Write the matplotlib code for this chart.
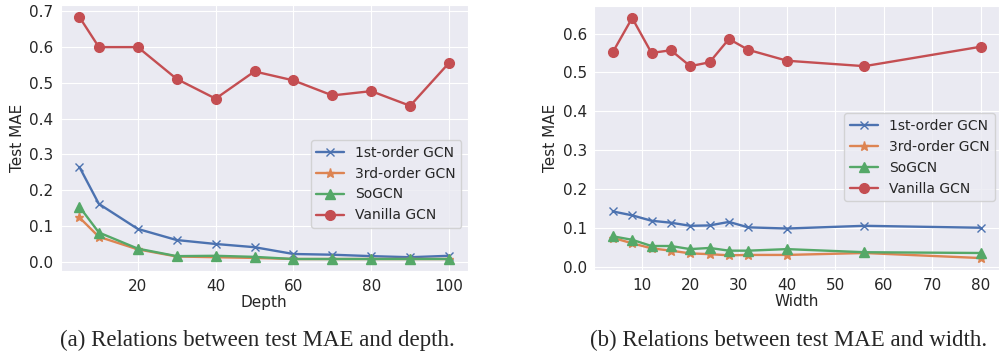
import matplotlib
matplotlib.use('Agg')
import matplotlib.pyplot as plt
import seaborn as sns

sns.set_style('darkgrid')
plt.rcParams['font.family'] = ['DejaVu Sans']

# depth experiment
depth = [5, 10, 20, 30, 40, 50, 60, 70, 80, 90, 100]
d_first = [0.265, 0.162, 0.092, 0.061, 0.050, 0.041, 0.022, 0.020, 0.016, 0.013, 0.017]
d_third = [0.124, 0.070, 0.035, 0.015, 0.013, 0.011, 0.008, 0.008, 0.008, 0.008, 0.008]
d_sogcn = [0.154, 0.082, 0.037, 0.016, 0.017, 0.014, 0.008, 0.008, 0.008, 0.008, 0.008]
d_vanilla = [0.684, 0.600, 0.600, 0.511, 0.456, 0.532, 0.507, 0.465, 0.477, 0.436, 0.556]

# width experiment
width = [4, 8, 12, 16, 20, 24, 28, 32, 40, 56, 80]
w_first = [0.142, 0.132, 0.118, 0.113, 0.105, 0.106, 0.115, 0.101, 0.098, 0.105, 0.100]
w_third = [0.074, 0.060, 0.047, 0.041, 0.034, 0.032, 0.029, 0.030, 0.030, 0.035, 0.022]
w_sogcn = [0.078, 0.069, 0.053, 0.053, 0.045, 0.048, 0.041, 0.041, 0.045, 0.037, 0.035]
w_vanilla = [0.552, 0.640, 0.550, 0.557, 0.516, 0.526, 0.586, 0.558, 0.530, 0.516, 0.566]

labels = ['1st-order GCN', '3rd-order GCN', 'SoGCN', 'Vanilla GCN']
markers = [('x', 5.5), ('*', 6.5), ('^', 6.5), ('o', 7)]
pal = sns.color_palette('deep')
colors = [pal[0], pal[1], pal[2], pal[3]]

fig = plt.figure(figsize=(9.99, 3.53), dpi=100)
ax1 = fig.add_axes([0.061, 0.232, 0.407, 0.754])
ax2 = fig.add_axes([0.595, 0.235, 0.405, 0.748])

fs = 11
for ax, xs, ys, xlabel, anchor in [
        (ax1, depth, [d_first, d_third, d_sogcn, d_vanilla], 'Depth', (0.985, 0.162)),
        (ax2, width, [w_first, w_third, w_sogcn, w_vanilla], 'Width', (0.99, 0.261))]:
    for y, lab, (m, ms), c in zip(ys, labels, markers, colors):
        ax.plot(xs, y, marker=m, markersize=ms, color=c, lw=1.7, label=lab)
    ax.set_xlabel(xlabel, fontsize=fs, labelpad=1)
    ax.set_ylabel('Test MAE', fontsize=fs, labelpad=3)
    ax.tick_params(labelsize=fs, pad=2)
    ax.legend(loc='lower right', bbox_to_anchor=anchor, borderaxespad=0,
              fontsize=10, frameon=True)

ax1.set_xticks([20, 40, 60, 80, 100])
ax1.set_yticks([0.0, 0.1, 0.2, 0.3, 0.4, 0.5, 0.6, 0.7])
ax2.set_xticks([10, 20, 30, 40, 50, 60, 70, 80])
ax2.set_yticks([0.0, 0.1, 0.2, 0.3, 0.4, 0.5, 0.6])

fig.text(0.258, 0.005, '(a) Relations between test MAE and depth.',
         ha='center', va='bottom', fontsize=16.5, family='Liberation Serif')
fig.text(0.789, 0.005, '(b) Relations between test MAE and width.',
         ha='center', va='bottom', fontsize=16.5, family='Liberation Serif')

fig.savefig('out.png', dpi=100)
